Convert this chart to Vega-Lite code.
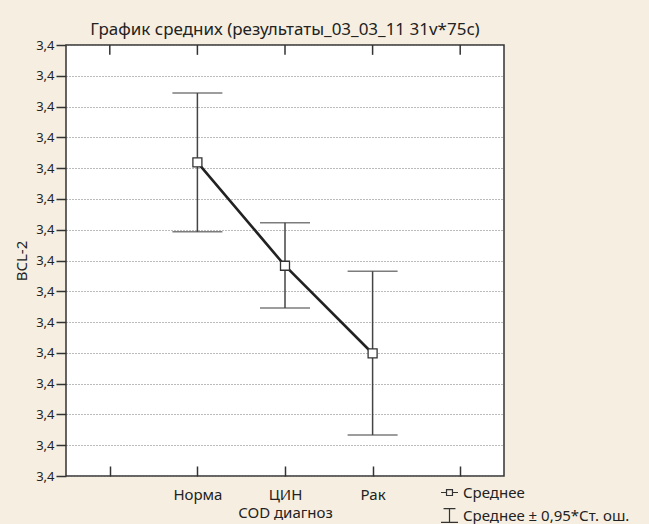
{
  "$schema": "https://vega.github.io/schema/vega-lite/v6.json",
  "autosize": "none",
  "width": 438,
  "height": 431,
  "padding": {"left": 66, "top": 45, "right": 145, "bottom": 48},
  "background": "#f6efe1",
  "config": {
    "font": "Noto Sans",
    "view": {"fill": "white", "stroke": "#333", "strokeWidth": 1.5},
    "axis": {"labelColor": "#222", "titleColor": "#222", "tickColor": "#333", "domain": false, "titleFontWeight": "normal"}
  },
  "title": {
    "text": "График средних (результаты_03_03_11 31v*75c)",
    "fontSize": 17,
    "fontWeight": "normal",
    "color": "#222",
    "anchor": "middle",
    "baseline": "alphabetic",
    "offset": 9,
    "dy": 22
  },
  "data": {
    "values": [
      {"group": "Норма", "mean": 3.41019, "lo": 3.40793, "hi": 3.41244, "series": "Среднее"},
      {"group": "ЦИН", "mean": 3.40683, "lo": 3.40546, "hi": 3.40823, "series": "Среднее"},
      {"group": "Рак", "mean": 3.40398, "lo": 3.40133, "hi": 3.40665, "series": "Среднее"}
    ]
  },
  "encoding": {
    "x": {
      "field": "group",
      "type": "nominal",
      "sort": [" ", "Норма", "ЦИН", "Рак", "  "],
      "scale": {"type": "point", "domain": [" ", "Норма", "ЦИН", "Рак", "  "], "padding": 0.5},
      "axis": {"orient": "bottom", "title": "COD диагноз", "titleFontSize": 15, "titlePadding": 3, "labelFontSize": 15, "labelAngle": 0, "labelPadding": 21, "tickSize": -10, "tickWidth": 1.5, "grid": false}
    }
  },
  "layer": [
    {
      "mark": {"type": "rule", "color": "#444", "strokeWidth": 1.5},
      "encoding": {
        "y": {
          "field": "lo",
          "type": "quantitative",
          "scale": {"domain": [3.4, 3.414], "nice": false, "zero": false},
          "axis": {
            "values": [3.4, 3.401, 3.402, 3.403, 3.404, 3.405, 3.406, 3.407, 3.408, 3.409, 3.41, 3.411, 3.412, 3.413, 3.414],
            "tickCount": 30,
            "labelOverlap": false,
            "labelExpr": "replace(format(datum.value, '.1f'), '.', ',')",
            "labelFontSize": 13,
            "labelPadding": 2,
            "tickSize": 10,
            "tickWidth": 1.5,
            "grid": true,
            "gridColor": "#777",
            "gridDash": [1, 2],
            "gridWidth": 1,
            "title": "BCL-2",
            "titleFontSize": 15,
            "titlePadding": 6
          }
        },
        "y2": {"field": "hi"}
      }
    },
    {
      "data": {"values": [{"cat": " "}, {"cat": "Норма"}, {"cat": "ЦИН"}, {"cat": "Рак"}, {"cat": "  "}]},
      "mark": {"type": "rule", "color": "#333", "strokeWidth": 1.5},
      "encoding": {
        "x": {"field": "cat", "type": "nominal"},
        "y": {"datum": 3.414},
        "y2": {"datum": 3.41368}
      }
    },
    {
      "mark": {"type": "tick", "orient": "horizontal", "color": "#444", "size": 50, "thickness": 1.5},
      "encoding": {"y": {"field": "lo", "type": "quantitative"}}
    },
    {
      "mark": {"type": "tick", "orient": "horizontal", "color": "#444", "size": 50, "thickness": 1.5},
      "encoding": {"y": {"field": "hi", "type": "quantitative"}}
    },
    {
      "mark": {"type": "line", "color": "#222", "strokeWidth": 2.6},
      "encoding": {"y": {"field": "mean", "type": "quantitative"}}
    },
    {
      "mark": {"type": "point", "shape": "square", "size": 81, "filled": true, "fill": "white", "stroke": "#333", "strokeWidth": 1.3, "opacity": 1},
      "encoding": {"y": {"field": "mean", "type": "quantitative"}}
    },
    {
      "mark": {"type": "point", "opacity": 0, "color": "#333"},
      "encoding": {
        "y": {"field": "mean", "type": "quantitative"},
        "shape": {
          "field": "series",
          "type": "nominal",
          "scale": {
            "domain": ["Среднее", "Среднее ± 0,95*Ст. ош."],
            "range": ["M-1,0H-0.35M0.35,0H1M-0.35,-0.35H0.35V0.35H-0.35Z", "M-0.7,-0.8H0.7M0,-0.8V0.8M-1,0.8H1"]
          },
          "legend": {
            "title": null,
            "orient": "none",
            "legendX": 374,
            "legendY": 438,
            "symbolSize": 289,
            "symbolOpacity": 1,
            "symbolFillColor": "white",
            "symbolStrokeColor": "#333",
            "symbolStrokeWidth": 1.2,
            "labelFontSize": 15,
            "labelColor": "#222",
            "labelOffset": 4,
            "labelLimit": 300,
            "rowPadding": 5,
            "padding": 0
          }
        }
      }
    }
  ]
}
